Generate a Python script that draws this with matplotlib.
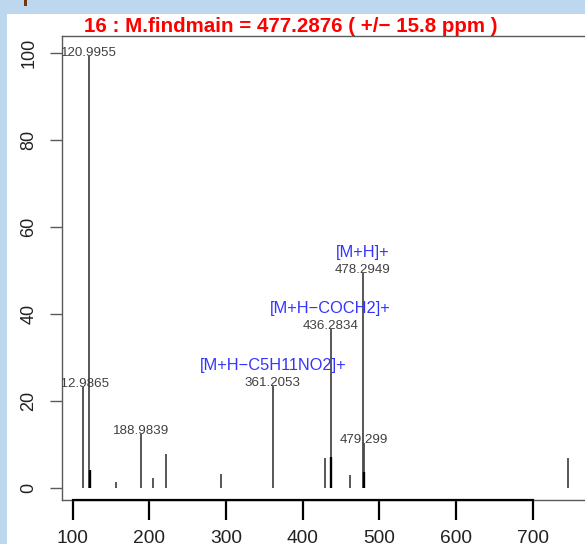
import matplotlib
matplotlib.use("Agg")
import matplotlib.pyplot as plt
from matplotlib.patches import Rectangle

plt.rcParams["font.family"] = ["Liberation Sans", "DejaVu Sans"]

# fragment spectrum: m/z and relative intensity
mz = [112.9865, 120.9955, 122.0, 156.9, 188.9839, 205.2, 221.7, 293.4,
      361.2053, 429.5, 436.2834, 437.3, 461.8, 478.2949, 479.299, 480.3, 745.6]
intensity = [23.1, 99.2, 4.1, 1.3, 12.4, 2.2, 7.6, 3.0,
             23.3, 6.7, 36.5, 7.0, 2.8, 49.4, 10.3, 3.5, 6.7]
# peaks belonging to the main-ion group (drawn thick black)
main_group = [122.0, 437.3, 480.3]

labeled_mz = [112.9865, 120.9955, 188.9839, 361.2053, 436.2834, 478.2949, 479.299]
adducts = {361.2053: "[M+H\u2212C5H11NO2]+",
           436.2834: "[M+H\u2212COCH2]+",
           478.2949: "[M+H]+"}

title = "16 : M.findmain = 477.2876 ( +/\u2212 15.8 ppm )"
xticks = [100, 200, 300, 400, 500, 600, 700]
yticks = [0, 20, 40, 60, 80, 100]

W, H = 585, 544
fig = plt.figure(figsize=(W / 100, H / 100), dpi=100)
fig.patch.set_facecolor("#bdd7ee")
fig.patches.append(Rectangle((7.3 / W, 0), 1, 1 - 14 / H, transform=fig.transFigure,
                             facecolor="white", edgecolor="none", zorder=-10))
fig.patches.append(Rectangle((24 / W, 1 - 6 / H), 3 / W, 6 / H, transform=fig.transFigure,
                             facecolor="#6b3a12", edgecolor="none", zorder=-10))

ax = fig.add_axes([62.3 / W, 1 - 500 / H, (609.4 - 62.3) / W, (500 - 36) / H])
ax.set_xlim(86.44, 800)
ax.set_ylim(-2.87, 103.84)

for m, v in zip(mz, intensity):
    if m in main_group:
        ax.vlines(m, 0, v, color="black", lw=1.7, zorder=3)
    else:
        ax.vlines(m, 0, v, color="#4a4a4a", lw=1.3, zorder=2)

for m in labeled_mz:
    v = intensity[mz.index(m)]
    txt = f"{m:.4f}".rstrip("0")
    ax.annotate(txt, (m, v), xytext=(0, 2.2), textcoords="offset points",
                ha="center", va="center", fontsize=9.6, color="#404040",
                annotation_clip=True, clip_on=True)
    if m in adducts:
        ax.annotate(adducts[m], (m, v), xytext=(0, 14.8), textcoords="offset points",
                    ha="center", va="center", fontsize=11.8, color="#3434ff",
                    clip_on=True)

for s in ax.spines.values():
    s.set_color("#5a5a5a")
    s.set_linewidth(1.0)

# R-style x axis: black line spanning the tick range only
ax.plot([100, 700], [0, 0], transform=ax.get_xaxis_transform(), color="black",
        lw=1.6, clip_on=False, zorder=5)

ax.set_xticks(xticks)
ax.set_yticks(yticks)
ax.tick_params(axis="x", length=14.4, width=1.6, color="black", pad=7.5,
               labelsize=13.8, labelcolor="#222222")
ax.tick_params(axis="y", length=8.6, width=1.0, color="#5a5a5a", pad=9.5,
               labelsize=13, labelcolor="#222222", labelrotation=90)
for lab in ax.get_yticklabels():
    lab.set_va("center")

fig.text(290.7 / W, 1 - 26.5 / H, title, ha="center", va="center", fontsize=14.8,
         fontweight="bold", color="#ff0000")

fig.savefig("out.png", dpi=100)
